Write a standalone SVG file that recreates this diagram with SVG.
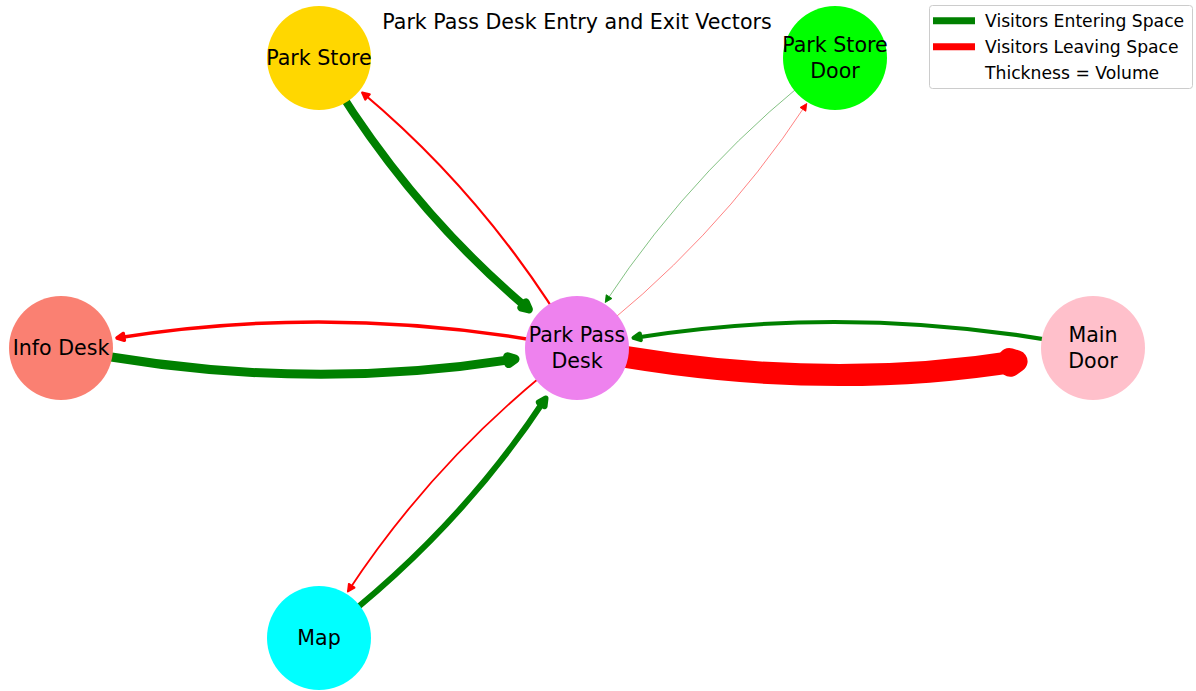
<svg xmlns="http://www.w3.org/2000/svg" width="1196" height="691" viewBox="0 0 1196 691">
<style>
text{font-family:"DejaVu Sans","Liberation Sans",sans-serif;fill:#000}
.lbl{font-size:20.6px;text-anchor:middle}
.title{font-size:20.6px;text-anchor:middle}
.leg{font-size:17.2px}
.e{fill:none;stroke-linecap:butt;stroke-linejoin:round}
.g{stroke:#008000}
.r{stroke:#ff0000}
.thin{stroke-opacity:0.55}
.hg{fill:#008000;stroke:#008000;stroke-linejoin:round}
.hr{fill:#ff0000;stroke:#ff0000;stroke-linejoin:round}
</style>
<defs>
<marker id="m1" markerUnits="userSpaceOnUse" orient="auto" refX="0" refY="0" markerWidth="1" markerHeight="1" overflow="visible"><path class="hg" stroke-width="8" d="M0,0 L-6.9,-3.44 L-6.9,3.44 Z"/></marker>
<marker id="m2" markerUnits="userSpaceOnUse" orient="auto" refX="0" refY="0" markerWidth="1" markerHeight="1" overflow="visible"><path class="hr" stroke-width="2.2" d="M0,0 L-6.9,-3.44 L-6.9,3.44 Z"/></marker>
<marker id="m3" markerUnits="userSpaceOnUse" orient="auto" refX="0" refY="0" markerWidth="1" markerHeight="1" overflow="visible"><path class="hg" stroke-width="0.8" d="M0,0 L-6.9,-3.44 L-6.9,3.44 Z"/></marker>
<marker id="m4" markerUnits="userSpaceOnUse" orient="auto" refX="0" refY="0" markerWidth="1" markerHeight="1" overflow="visible"><path class="hr" stroke-width="0.8" d="M0,0 L-6.9,-3.44 L-6.9,3.44 Z"/></marker>
<marker id="m5" markerUnits="userSpaceOnUse" orient="auto" refX="0" refY="0" markerWidth="1" markerHeight="1" overflow="visible"><path class="hg" stroke-width="6" d="M0,0 L-6.9,-3.44 L-6.9,3.44 Z"/></marker>
<marker id="m6" markerUnits="userSpaceOnUse" orient="auto" refX="0" refY="0" markerWidth="1" markerHeight="1" overflow="visible"><path class="hr" stroke-width="1.8" d="M0,0 L-6.9,-3.44 L-6.9,3.44 Z"/></marker>
<marker id="m7" markerUnits="userSpaceOnUse" orient="auto" refX="0" refY="0" markerWidth="1" markerHeight="1" overflow="visible"><path class="hg" stroke-width="9" d="M0,0 L-6.9,-3.44 L-6.9,3.44 Z"/></marker>
<marker id="m8" markerUnits="userSpaceOnUse" orient="auto" refX="0" refY="0" markerWidth="1" markerHeight="1" overflow="visible"><path class="hr" stroke-width="3.5" d="M0,0 L-6.9,-3.44 L-6.9,3.44 Z"/></marker>
<marker id="m9" markerUnits="userSpaceOnUse" orient="auto" refX="0" refY="0" markerWidth="1" markerHeight="1" overflow="visible"><path class="hg" stroke-width="4" d="M0,0 L-6.9,-3.44 L-6.9,3.44 Z"/></marker>
<marker id="m10" markerUnits="userSpaceOnUse" orient="auto" refX="0" refY="0" markerWidth="1" markerHeight="1" overflow="visible"><path class="hr" stroke-width="22" d="M0,0 L-6.9,-3.44 L-6.9,3.44 Z"/></marker>
</defs>
<rect width="1196" height="691" fill="#ffffff"/>
<g id="connectors">
<path id="e-store-ppd" class="e g" stroke-width="8" marker-end="url(#m1)" d="M319,58 Q405.6,205.9 528.9,309.4"/>
<path id="e-ppd-store" class="e r" stroke-width="2.2" marker-end="url(#m2)" d="M577,348 Q490.4,200.1 362.2,92.5"/>
<path id="e-storedoor-ppd" class="e g thin" stroke-width="0.9" marker-end="url(#m3)" d="M835,58 Q698.2,161.2 605.3,302.4"/>
<path id="e-ppd-storedoor" class="e r thin" stroke-width="0.9" marker-end="url(#m4)" d="M577,348 Q713.8,244.8 806.7,103.6"/>
<path id="e-map-ppd" class="e g" stroke-width="6" marker-end="url(#m5)" d="M319,638 Q455.8,534.8 545.5,398.5"/>
<path id="e-ppd-map" class="e r" stroke-width="1.8" marker-end="url(#m6)" d="M577,348 Q440.2,451.2 347.9,591.5"/>
<path id="e-info-ppd" class="e g" stroke-width="9" marker-end="url(#m7)" d="M61,348 Q292.9,394.4 515.0,359.0"/>
<path id="e-ppd-info" class="e r" stroke-width="3.5" marker-end="url(#m8)" d="M577,348 Q345.1,301.6 117.0,338.0"/>
<path id="e-main-ppd" class="e g" stroke-width="4" marker-end="url(#m9)" d="M1093,348 Q861.1,301.6 633.5,337.9"/>
<path id="e-ppd-main" class="e r" stroke-width="22" marker-end="url(#m10)" d="M577,348 Q808.9,394.4 1016.6,361.3"/>
</g>
<g id="node-park-store">
<circle cx="319" cy="58" r="52" fill="#ffd700"/>
<text class="lbl" x="319" y="65">Park Store</text>
</g>
<g id="node-park-store-door">
<circle cx="835" cy="58" r="52" fill="#00ff00"/>
<text class="lbl" x="835" y="52">Park Store</text>
<text class="lbl" x="835" y="78">Door</text>
</g>
<g id="node-park-pass-desk">
<circle cx="577" cy="348" r="52" fill="#ee82ee"/>
<text class="lbl" x="577" y="342">Park Pass</text>
<text class="lbl" x="577" y="368">Desk</text>
</g>
<g id="node-info-desk">
<circle cx="61" cy="348" r="52" fill="#fa8072"/>
<text class="lbl" x="61" y="355">Info Desk</text>
</g>
<g id="node-main-door">
<circle cx="1093" cy="348" r="52" fill="#ffc0cb"/>
<text class="lbl" x="1093" y="342">Main</text>
<text class="lbl" x="1093" y="368">Door</text>
</g>
<g id="node-map">
<circle cx="319" cy="638" r="52" fill="#00ffff"/>
<text class="lbl" x="319" y="645">Map</text>
</g>
<text class="title" x="577" y="28.5">Park Pass Desk Entry and Exit Vectors</text>
<g id="legend">
<rect x="929.5" y="5.5" width="263" height="83" rx="3" fill="#ffffff" fill-opacity="0.8" stroke="#cccccc"/>
<line x1="933" y1="20.7" x2="975" y2="20.7" stroke="#008000" stroke-width="6.9"/>
<line x1="933" y1="46.7" x2="975" y2="46.7" stroke="#ff0000" stroke-width="6.9"/>
<text class="leg" x="985" y="27.3">Visitors Entering Space</text>
<text class="leg" x="985" y="53.3">Visitors Leaving Space</text>
<text class="leg" x="985" y="79.3">Thickness = Volume</text>
</g>
</svg>
